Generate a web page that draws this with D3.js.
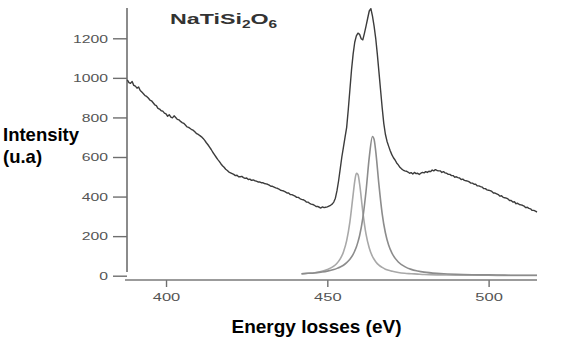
<!DOCTYPE html>
<html>
<head>
<meta charset="utf-8">
<script src="https://cdn.jsdelivr.net/npm/d3@7"></script>
<style>
  html, body { margin: 0; padding: 0; background: #fff; }
  svg { display: block; }
</style>
</head>
<body>
<svg id="chart" width="565" height="357"></svg>
<script>
// ---- Data ----
const energy = [
  388,388.5,389,389.5,390,390.5,391,391.5,392,392.5,393,393.5,394,394.5,395,395.5,396,396.5,397,397.5,
  398,398.5,399,399.5,400,400.5,401,401.5,402,402.5,403,403.5,404,404.5,405,405.5,406,406.5,407,407.5,
  408,408.5,409,409.5,410,410.5,411,411.5,412,412.5,413,413.5,414,414.5,415,415.5,416,416.5,417,417.5,
  418,418.5,419,419.5,420,420.5,421,421.5,422,422.5,423,423.5,424,424.5,425,425.5,426,426.5,427,427.5,
  428,428.5,429,429.5,430,430.5,431,431.5,432,432.5,433,433.5,434,434.5,435,435.5,436,436.5,437,437.5,
  438,438.5,439,439.5,440,440.5,441,441.5,442,442.5,443,443.5,444,444.5,445,445.5,446,446.5,447,447.5,
  448,448.5,449,449.5,450,450.5,451,451.5,452,452.5,453,453.5,454,454.5,455,455.5,456,456.5,457,457.5,
  458,458.5,459,459.5,460,460.5,461,461.5,462,462.5,463,463.5,464,464.5,465,465.5,466,466.5,467,467.5,
  468,468.5,469,469.5,470,470.5,471,471.5,472,472.5,473,473.5,474,474.5,475,475.5,476,476.5,477,477.5,
  478,478.5,479,479.5,480,480.5,481,481.5,482,482.5,483,483.5,484,484.5,485,485.5,486,486.5,487,487.5,
  488,488.5,489,489.5,490,490.5,491,491.5,492,492.5,493,493.5,494,494.5,495,495.5,496,496.5,497,497.5,
  498,498.5,499,499.5,500,500.5,501,501.5,502,502.5,503,503.5,504,504.5,505,505.5,506,506.5,507,507.5,
  508,508.5,509,509.5,510,510.5,511,511.5,512,512.5,513,513.5,514,514.5,515
];
const intensity = [
  990,976,972,982,962,958,948,954,936,928,920,910,906,898,888,884,874,864,860,846,
  842,834,832,822,818,806,814,802,798,808,800,790,788,780,774,770,762,752,750,744,
  738,734,726,718,714,708,702,694,684,672,662,650,638,624,612,600,588,578,566,556,
  548,538,532,524,520,516,512,506,508,500,500,502,496,492,494,486,488,482,484,480,
  478,474,474,470,470,466,464,462,458,452,452,448,444,442,438,432,430,428,424,418,
  418,410,410,406,402,396,396,390,386,384,380,372,372,366,362,360,356,350,350,346,
  342,348,344,346,348,352,356,362,372,392,430,480,540,600,650,700,750,840,940,1040,
  1120,1180,1212,1226,1220,1198,1192,1225,1262,1300,1338,1350,1312,1262,1200,1120,1030,940,850,770,
  715,680,655,632,612,596,585,570,560,548,540,534,530,528,524,518,521,514,522,516,
  518,512,518,522,520,526,522,528,526,534,530,536,532,530,530,522,526,520,518,512,
  512,506,506,498,500,496,494,486,488,482,480,478,474,468,468,462,462,454,454,450,
  448,440,440,434,432,430,426,418,418,414,410,402,404,396,394,392,388,380,380,372,
  374,364,366,360,358,356,352,344,346,340,338,330,330,326,322
];
// Fitted components (L3 and L2 peaks)
const fitEnergy = [
  442,444,446,448,450,452,453,454,455,456,457,458,458.5,459,459.5,460,461,462,463,464,
  464.5,465,466,467,468,469,470,472,474,476,478,480,485,490,495,500,505,510,515
];
const peakL3 = [
  9,12,15,21,31,48,63,85,120,177,272,410,477,517,512,465,323,210,140,97,
  83,71,53,42,33,27,23,16,12,10,8,6,4,3,2,2,1,1,1
];
const peakL2 = [
  10,12,14,18,23,31,37,44,53,66,83,108,125,145,171,202,291,427,598,704,
  689,630,460,314,217,155,115,69,46,32,24,18,11,7,5,4,3,2,2
];
const yTicks = [0, 200, 400, 600, 800, 1000, 1200];
const xTicks = [400, 450, 500];
const chartTitle = ["NaTiSi", "2", "O", "6"];
const yLabelLines = ["Intensity", "(u.a)"];
const xLabel = "Energy losses (eV)";

// ---- Chart ----
const svg = d3.select("#chart");

const x = d3.scaleLinear().domain([387.5, 515]).range([125.7, 537]);
const y = d3.scaleLinear().domain([0, 1200]).range([275.7, 38.3]);

const tickFont = "'Liberation Sans', Arial, sans-serif";

// Y axis
const yAxis = svg.append("g")
  .attr("transform", "translate(127,0)")
  .call(d3.axisLeft(y).tickValues(yTicks).tickSize(14).tickFormat(d3.format("d")));
yAxis.select(".domain").remove();
yAxis.selectAll(".tick line").attr("stroke", "#6e6e6e").attr("stroke-width", 1.4);
yAxis.selectAll(".tick text")
  .attr("x", 0).attr("dy", "0.36em")
  .attr("transform", "translate(-19,0) scale(1.5,1)")
  .attr("fill", "#555")
  .style("font-family", tickFont)
  .style("font-size", "10.5px");
svg.append("line")
  .attr("x1", 127).attr("x2", 127).attr("y1", 8).attr("y2", 272)
  .attr("stroke", "#6e6e6e").attr("stroke-width", 1.6);

// X axis
const xAxis = svg.append("g")
  .attr("transform", "translate(0,280)")
  .call(d3.axisBottom(x).tickValues(xTicks).tickSize(7).tickFormat(d3.format("d")));
xAxis.select(".domain").remove();
xAxis.selectAll(".tick line").attr("stroke", "#6e6e6e").attr("stroke-width", 1.4);
xAxis.selectAll(".tick text")
  .attr("y", 0).attr("dy", 0)
  .attr("transform", "translate(0,21) scale(1.5,1)")
  .attr("fill", "#555")
  .style("font-family", tickFont)
  .style("font-size", "11px");
svg.append("line")
  .attr("x1", 125).attr("x2", 537).attr("y1", 280).attr("y2", 280)
  .attr("stroke", "#7a7a7a").attr("stroke-width", 1.6);

// Lines
const smoothLine = d3.line().x(d => x(d[0])).y(d => y(d[1])).curve(d3.curveMonotoneX);

svg.append("path")
  .datum(fitEnergy.map((e, i) => [e, peakL3[i]]))
  .attr("d", smoothLine)
  .attr("fill", "none").attr("stroke", "#a8a8a8").attr("stroke-width", 1.6);

svg.append("path")
  .datum(fitEnergy.map((e, i) => [e, peakL2[i]]))
  .attr("d", smoothLine)
  .attr("fill", "none").attr("stroke", "#8c8c8c").attr("stroke-width", 1.6);

svg.append("path")
  .datum(energy.map((e, i) => [e, intensity[i]]))
  .attr("d", d3.line().x(d => x(d[0])).y(d => y(d[1])))
  .attr("fill", "none").attr("stroke", "#3c3c3c").attr("stroke-width", 1.4)
  .attr("stroke-linejoin", "round");

// Title
const t = svg.append("text")
  .attr("transform", "translate(170,24) scale(1.55,1)")
  .attr("fill", "#333")
  .style("font-family", "'Liberation Sans', Arial, sans-serif")
  .style("font-weight", "bold")
  .style("font-size", "15px");
t.append("tspan").text(chartTitle[0]);
t.append("tspan").attr("dy", 4).style("font-size", "10px").text(chartTitle[1]);
t.append("tspan").attr("dy", -4).text(chartTitle[2]);
t.append("tspan").attr("dy", 4).style("font-size", "10px").text(chartTitle[3]);

// Axis labels
const labelFont = "'Liberation Sans', Arial, sans-serif";
svg.selectAll("text.ylab")
  .data(yLabelLines)
  .enter().append("text")
  .attr("class", "ylab")
  .attr("x", 3)
  .attr("y", (d, i) => 141 + i * 21.5)
  .attr("fill", "#000")
  .style("font-family", labelFont)
  .style("font-weight", "bold")
  .style("font-size", "18.5px")
  .text(d => d);

svg.append("text")
  .attr("x", 231.5).attr("y", 333)
  .attr("fill", "#000")
  .style("font-family", labelFont)
  .style("font-weight", "bold")
  .style("font-size", "19px")
  .text(xLabel);
</script>
</body>
</html>
